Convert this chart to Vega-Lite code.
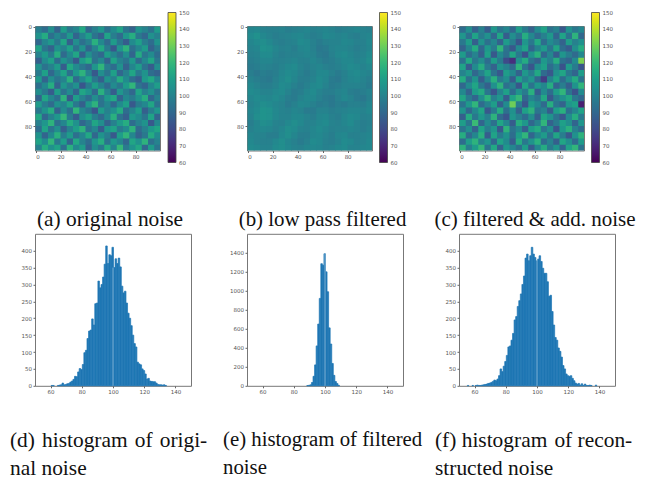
{"$schema":"https://vega.github.io/schema/vega-lite/v6.json","background":"white","padding":{"left":9,"top":12,"right":0,"bottom":0},"bounds":"flush","spacing":{"column":56,"row":55.8},"columns":3,"align":"all","resolve":{"legend":{"color":"independent"},"scale":{"color":"independent"}},
"config":{"view":{"stroke":"#777"},"axis":{"title":null,"grid":false,"domain":false,"labelFont":"DejaVu Sans","labelFontSize":5.5,"labelColor":"#555","tickColor":"#666","tickSize":2,"labelPadding":1.5,"labelOverlap":false,"format":"d"},"title":{"font":"Liberation Serif","fontSize":21.4,"fontWeight":"normal","color":"#111","frame":"group"}},
"datasets":{"grid":[
{"x":-0.5,"y":-0.5,"a":98,"b":101,"c":92},{"x":4.5,"y":-0.5,"a":92,"b":102,"c":104},{"x":9.5,"y":-0.5,"a":104,"b":100,"c":88},{"x":14.5,"y":-0.5,"a":88,"b":99,"c":99},{"x":19.5,"y":-0.5,"a":110,"b":99,"c":86},{"x":24.5,"y":-0.5,"a":96,"b":100,"c":108},{"x":29.5,"y":-0.5,"a":101,"b":98,"c":95},{"x":34.5,"y":-0.5,"a":114,"b":99,"c":101},{"x":39.5,"y":-0.5,"a":90,"b":100,"c":90},{"x":44.5,"y":-0.5,"a":99,"b":101,"c":110},{"x":49.5,"y":-0.5,"a":107,"b":99,"c":97},{"x":54.5,"y":-0.5,"a":93,"b":100,"c":88},{"x":59.5,"y":-0.5,"a":103,"b":101,"c":103},{"x":64.5,"y":-0.5,"a":112,"b":100,"c":112},{"x":69.5,"y":-0.5,"a":95,"b":98,"c":94},{"x":74.5,"y":-0.5,"a":88,"b":99,"c":99},{"x":79.5,"y":-0.5,"a":106,"b":100,"c":85},{"x":84.5,"y":-0.5,"a":100,"b":101,"c":105},{"x":89.5,"y":-0.5,"a":94,"b":100,"c":96},{"x":94.5,"y":-0.5,"a":109,"b":99,"c":101},
{"x":-0.5,"y":4.5,"a":106,"b":103,"c":107},{"x":4.5,"y":4.5,"a":115,"b":105,"c":93},{"x":9.5,"y":4.5,"a":93,"b":102,"c":112},{"x":14.5,"y":4.5,"a":101,"b":100,"c":97},{"x":19.5,"y":4.5,"a":95,"b":98,"c":105},{"x":24.5,"y":4.5,"a":108,"b":99,"c":90},{"x":29.5,"y":4.5,"a":89,"b":100,"c":113},{"x":34.5,"y":4.5,"a":100,"b":101,"c":86},{"x":39.5,"y":4.5,"a":110,"b":102,"c":104},{"x":44.5,"y":4.5,"a":94,"b":100,"c":95},{"x":49.5,"y":4.5,"a":87,"b":98,"c":116},{"x":54.5,"y":4.5,"a":112,"b":99,"c":102},{"x":59.5,"y":4.5,"a":98,"b":102,"c":91},{"x":64.5,"y":4.5,"a":91,"b":101,"c":99},{"x":69.5,"y":4.5,"a":107,"b":100,"c":108},{"x":74.5,"y":4.5,"a":116,"b":101,"c":89},{"x":79.5,"y":4.5,"a":96,"b":99,"c":112},{"x":84.5,"y":4.5,"a":90,"b":98,"c":94},{"x":89.5,"y":4.5,"a":105,"b":100,"c":118},{"x":94.5,"y":4.5,"a":99,"b":101,"c":90},
{"x":-0.5,"y":9.5,"a":90,"b":101,"c":96},{"x":4.5,"y":9.5,"a":101,"b":103,"c":110},{"x":9.5,"y":9.5,"a":108,"b":104,"c":87},{"x":14.5,"y":9.5,"a":96,"b":102,"c":106},{"x":19.5,"y":9.5,"a":113,"b":99,"c":93},{"x":24.5,"y":9.5,"a":87,"b":98,"c":101},{"x":29.5,"y":9.5,"a":104,"b":99,"c":88},{"x":34.5,"y":9.5,"a":93,"b":100,"c":109},{"x":39.5,"y":9.5,"a":99,"b":103,"c":98},{"x":44.5,"y":9.5,"a":117,"b":102,"c":84},{"x":49.5,"y":9.5,"a":102,"b":99,"c":107},{"x":54.5,"y":9.5,"a":91,"b":97,"c":96},{"x":59.5,"y":9.5,"a":109,"b":99,"c":114},{"x":64.5,"y":9.5,"a":96,"b":100,"c":92},{"x":69.5,"y":9.5,"a":86,"b":100,"c":103},{"x":74.5,"y":9.5,"a":103,"b":102,"c":97},{"x":79.5,"y":9.5,"a":111,"b":101,"c":88},{"x":84.5,"y":9.5,"a":98,"b":99,"c":110},{"x":89.5,"y":9.5,"a":92,"b":99,"c":99},{"x":94.5,"y":9.5,"a":106,"b":102,"c":105},
{"x":-0.5,"y":14.5,"a":112,"b":100,"c":88},{"x":4.5,"y":14.5,"a":95,"b":101,"c":101},{"x":9.5,"y":14.5,"a":88,"b":105,"c":115},{"x":14.5,"y":14.5,"a":105,"b":104,"c":90},{"x":19.5,"y":14.5,"a":99,"b":101,"c":108},{"x":24.5,"y":14.5,"a":111,"b":99,"c":97},{"x":29.5,"y":14.5,"a":94,"b":100,"c":119},{"x":34.5,"y":14.5,"a":106,"b":98,"c":94},{"x":39.5,"y":14.5,"a":89,"b":101,"c":85},{"x":44.5,"y":14.5,"a":100,"b":102,"c":103},{"x":49.5,"y":14.5,"a":114,"b":99,"c":112},{"x":54.5,"y":14.5,"a":97,"b":96,"c":89},{"x":59.5,"y":14.5,"a":85,"b":97,"c":100},{"x":64.5,"y":14.5,"a":107,"b":100,"c":109},{"x":69.5,"y":14.5,"a":118,"b":101,"c":95},{"x":74.5,"y":14.5,"a":93,"b":101,"c":113},{"x":79.5,"y":14.5,"a":101,"b":100,"c":92},{"x":84.5,"y":14.5,"a":109,"b":98,"c":86},{"x":89.5,"y":14.5,"a":88,"b":99,"c":104},{"x":94.5,"y":14.5,"a":97,"b":101,"c":116},
{"x":-0.5,"y":19.5,"a":100,"b":99,"c":109},{"x":4.5,"y":19.5,"a":108,"b":100,"c":92},{"x":9.5,"y":19.5,"a":97,"b":103,"c":100},{"x":14.5,"y":19.5,"a":116,"b":103,"c":87},{"x":19.5,"y":19.5,"a":91,"b":100,"c":111},{"x":24.5,"y":19.5,"a":102,"b":98,"c":85},{"x":29.5,"y":19.5,"a":113,"b":99,"c":102},{"x":34.5,"y":19.5,"a":87,"b":99,"c":93},{"x":39.5,"y":19.5,"a":104,"b":100,"c":113},{"x":44.5,"y":19.5,"a":95,"b":101,"c":96},{"x":49.5,"y":19.5,"a":90,"b":100,"c":83},{"x":54.5,"y":19.5,"a":110,"b":97,"c":106},{"x":59.5,"y":19.5,"a":101,"b":96,"c":117},{"x":64.5,"y":19.5,"a":93,"b":99,"c":90},{"x":69.5,"y":19.5,"a":104,"b":102,"c":101},{"x":74.5,"y":19.5,"a":89,"b":103,"c":86},{"x":79.5,"y":19.5,"a":115,"b":101,"c":107},{"x":84.5,"y":19.5,"a":96,"b":99,"c":98},{"x":89.5,"y":19.5,"a":103,"b":100,"c":91},{"x":94.5,"y":19.5,"a":92,"b":103,"c":102},
{"x":-0.5,"y":24.5,"a":87,"b":98,"c":94},{"x":4.5,"y":24.5,"a":103,"b":99,"c":114},{"x":9.5,"y":24.5,"a":111,"b":101,"c":96},{"x":14.5,"y":24.5,"a":92,"b":101,"c":104},{"x":19.5,"y":24.5,"a":106,"b":99,"c":92},{"x":24.5,"y":24.5,"a":98,"b":99,"c":110},{"x":29.5,"y":24.5,"a":85,"b":100,"c":97},{"x":34.5,"y":24.5,"a":109,"b":101,"c":80},{"x":39.5,"y":24.5,"a":116,"b":99,"c":72},{"x":44.5,"y":24.5,"a":94,"b":99,"c":105},{"x":49.5,"y":24.5,"a":102,"b":101,"c":115},{"x":54.5,"y":24.5,"a":88,"b":99,"c":94},{"x":59.5,"y":24.5,"a":112,"b":97,"c":88},{"x":64.5,"y":24.5,"a":100,"b":98,"c":108},{"x":69.5,"y":24.5,"a":95,"b":100,"c":99},{"x":74.5,"y":24.5,"a":108,"b":102,"c":116},{"x":79.5,"y":24.5,"a":91,"b":102,"c":93},{"x":84.5,"y":24.5,"a":102,"b":100,"c":89},{"x":89.5,"y":24.5,"a":113,"b":101,"c":103},{"x":94.5,"y":24.5,"a":96,"b":104,"c":132},
{"x":-0.5,"y":29.5,"a":105,"b":97,"c":112},{"x":4.5,"y":29.5,"a":94,"b":98,"c":86},{"x":9.5,"y":29.5,"a":99,"b":100,"c":103},{"x":14.5,"y":29.5,"a":109,"b":99,"c":116},{"x":19.5,"y":29.5,"a":86,"b":98,"c":97},{"x":24.5,"y":29.5,"a":114,"b":100,"c":88},{"x":29.5,"y":29.5,"a":103,"b":102,"c":106},{"x":34.5,"y":29.5,"a":96,"b":103,"c":100},{"x":39.5,"y":29.5,"a":90,"b":100,"c":91},{"x":44.5,"y":29.5,"a":107,"b":98,"c":118},{"x":49.5,"y":29.5,"a":119,"b":100,"c":95},{"x":54.5,"y":29.5,"a":98,"b":101,"c":84},{"x":59.5,"y":29.5,"a":92,"b":99,"c":104},{"x":64.5,"y":29.5,"a":105,"b":98,"c":111},{"x":69.5,"y":29.5,"a":88,"b":99,"c":92},{"x":74.5,"y":29.5,"a":101,"b":101,"c":100},{"x":79.5,"y":29.5,"a":110,"b":103,"c":83},{"x":84.5,"y":29.5,"a":94,"b":102,"c":109},{"x":89.5,"y":29.5,"a":86,"b":100,"c":97},{"x":94.5,"y":29.5,"a":104,"b":102,"c":84},
{"x":-0.5,"y":34.5,"a":97,"b":98,"c":100},{"x":4.5,"y":34.5,"a":111,"b":96,"c":107},{"x":9.5,"y":34.5,"a":90,"b":98,"c":90},{"x":14.5,"y":34.5,"a":101,"b":97,"c":99},{"x":19.5,"y":34.5,"a":112,"b":98,"c":112},{"x":24.5,"y":34.5,"a":93,"b":101,"c":94},{"x":29.5,"y":34.5,"a":108,"b":103,"c":85},{"x":34.5,"y":34.5,"a":118,"b":102,"c":110},{"x":39.5,"y":34.5,"a":100,"b":99,"c":102},{"x":44.5,"y":34.5,"a":85,"b":97,"c":88},{"x":49.5,"y":34.5,"a":104,"b":99,"c":108},{"x":54.5,"y":34.5,"a":95,"b":102,"c":98},{"x":59.5,"y":34.5,"a":111,"b":102,"c":114},{"x":64.5,"y":34.5,"a":90,"b":99,"c":91},{"x":69.5,"y":34.5,"a":99,"b":97,"c":85},{"x":74.5,"y":34.5,"a":113,"b":99,"c":105},{"x":79.5,"y":34.5,"a":97,"b":102,"c":113},{"x":84.5,"y":34.5,"a":106,"b":103,"c":96},{"x":89.5,"y":34.5,"a":92,"b":101,"c":89},{"x":94.5,"y":34.5,"a":88,"b":100,"c":110},
{"x":-0.5,"y":39.5,"a":108,"b":100,"c":115},{"x":4.5,"y":39.5,"a":89,"b":98,"c":93},{"x":9.5,"y":39.5,"a":104,"b":97,"c":106},{"x":14.5,"y":39.5,"a":95,"b":96,"c":86},{"x":19.5,"y":39.5,"a":100,"b":99,"c":101},{"x":24.5,"y":39.5,"a":117,"b":102,"c":117},{"x":29.5,"y":39.5,"a":91,"b":104,"c":97},{"x":34.5,"y":39.5,"a":102,"b":101,"c":104},{"x":39.5,"y":39.5,"a":112,"b":98,"c":86},{"x":44.5,"y":39.5,"a":96,"b":98,"c":111},{"x":49.5,"y":39.5,"a":87,"b":100,"c":99},{"x":54.5,"y":39.5,"a":106,"b":103,"c":107},{"x":59.5,"y":39.5,"a":99,"b":101,"c":90},{"x":64.5,"y":39.5,"a":115,"b":97,"c":76},{"x":69.5,"y":39.5,"a":103,"b":96,"c":100},{"x":74.5,"y":39.5,"a":92,"b":99,"c":112},{"x":79.5,"y":39.5,"a":86,"b":101,"c":92},{"x":84.5,"y":39.5,"a":108,"b":102,"c":104},{"x":89.5,"y":39.5,"a":114,"b":100,"c":115},{"x":94.5,"y":39.5,"a":101,"b":98,"c":95},
{"x":-0.5,"y":44.5,"a":93,"b":102,"c":90},{"x":4.5,"y":44.5,"a":102,"b":100,"c":103},{"x":9.5,"y":44.5,"a":116,"b":98,"c":113},{"x":14.5,"y":44.5,"a":88,"b":98,"c":96},{"x":19.5,"y":44.5,"a":107,"b":100,"c":87},{"x":24.5,"y":44.5,"a":98,"b":103,"c":105},{"x":29.5,"y":44.5,"a":105,"b":102,"c":118},{"x":34.5,"y":44.5,"a":84,"b":99,"c":93},{"x":39.5,"y":44.5,"a":97,"b":97,"c":99},{"x":44.5,"y":44.5,"a":110,"b":99,"c":84},{"x":49.5,"y":44.5,"a":100,"b":102,"c":113},{"x":54.5,"y":44.5,"a":91,"b":103,"c":94},{"x":59.5,"y":44.5,"a":103,"b":100,"c":108},{"x":64.5,"y":44.5,"a":96,"b":97,"c":101},{"x":69.5,"y":44.5,"a":109,"b":98,"c":116},{"x":74.5,"y":44.5,"a":119,"b":100,"c":89},{"x":79.5,"y":44.5,"a":94,"b":100,"c":98},{"x":84.5,"y":44.5,"a":89,"b":100,"c":87},{"x":89.5,"y":44.5,"a":101,"b":99,"c":106},{"x":94.5,"y":44.5,"a":110,"b":97,"c":119},
{"x":-0.5,"y":49.5,"a":104,"b":103,"c":102},{"x":4.5,"y":49.5,"a":96,"b":102,"c":88},{"x":9.5,"y":49.5,"a":86,"b":100,"c":109},{"x":14.5,"y":49.5,"a":110,"b":100,"c":115},{"x":19.5,"y":49.5,"a":94,"b":102,"c":95},{"x":24.5,"y":49.5,"a":103,"b":103,"c":84},{"x":29.5,"y":49.5,"a":89,"b":100,"c":100},{"x":34.5,"y":49.5,"a":113,"b":97,"c":111},{"x":39.5,"y":49.5,"a":106,"b":98,"c":92},{"x":44.5,"y":49.5,"a":91,"b":101,"c":106},{"x":49.5,"y":49.5,"a":117,"b":103,"c":97},{"x":54.5,"y":49.5,"a":100,"b":100,"c":117},{"x":59.5,"y":49.5,"a":86,"b":98,"c":86},{"x":64.5,"y":49.5,"a":107,"b":98,"c":103},{"x":69.5,"y":49.5,"a":98,"b":100,"c":92},{"x":74.5,"y":49.5,"a":90,"b":101,"c":110},{"x":79.5,"y":49.5,"a":112,"b":98,"c":119},{"x":84.5,"y":49.5,"a":99,"b":97,"c":94},{"x":89.5,"y":49.5,"a":105,"b":98,"c":83},{"x":94.5,"y":49.5,"a":95,"b":100,"c":103},
{"x":-0.5,"y":54.5,"a":88,"b":101,"c":113},{"x":4.5,"y":54.5,"a":113,"b":103,"c":97},{"x":9.5,"y":54.5,"a":101,"b":102,"c":89},{"x":14.5,"y":54.5,"a":93,"b":101,"c":104},{"x":19.5,"y":54.5,"a":118,"b":103,"c":118},{"x":24.5,"y":54.5,"a":85,"b":101,"c":99},{"x":29.5,"y":54.5,"a":110,"b":98,"c":107},{"x":34.5,"y":54.5,"a":99,"b":97,"c":86},{"x":39.5,"y":54.5,"a":92,"b":100,"c":112},{"x":44.5,"y":54.5,"a":104,"b":102,"c":120},{"x":49.5,"y":54.5,"a":95,"b":102,"c":90},{"x":54.5,"y":54.5,"a":108,"b":99,"c":101},{"x":59.5,"y":54.5,"a":114,"b":97,"c":95},{"x":64.5,"y":54.5,"a":89,"b":96,"c":114},{"x":69.5,"y":54.5,"a":102,"b":99,"c":85},{"x":74.5,"y":54.5,"a":97,"b":102,"c":98},{"x":79.5,"y":54.5,"a":106,"b":100,"c":105},{"x":84.5,"y":54.5,"a":116,"b":97,"c":113},{"x":89.5,"y":54.5,"a":90,"b":96,"c":96},{"x":94.5,"y":54.5,"a":100,"b":99,"c":90},
{"x":-0.5,"y":59.5,"a":109,"b":100,"c":94},{"x":4.5,"y":59.5,"a":98,"b":102,"c":108},{"x":9.5,"y":59.5,"a":91,"b":104,"c":119},{"x":14.5,"y":59.5,"a":105,"b":103,"c":91},{"x":19.5,"y":59.5,"a":100,"b":101,"c":100},{"x":24.5,"y":59.5,"a":112,"b":100,"c":110},{"x":29.5,"y":59.5,"a":96,"b":97,"c":87},{"x":34.5,"y":59.5,"a":87,"b":99,"c":103},{"x":39.5,"y":59.5,"a":107,"b":102,"c":130},{"x":44.5,"y":59.5,"a":118,"b":101,"c":98},{"x":49.5,"y":59.5,"a":94,"b":99,"c":84},{"x":54.5,"y":59.5,"a":101,"b":97,"c":109},{"x":59.5,"y":59.5,"a":90,"b":98,"c":102},{"x":64.5,"y":59.5,"a":103,"b":96,"c":91},{"x":69.5,"y":59.5,"a":111,"b":98,"c":116},{"x":74.5,"y":59.5,"a":85,"b":97,"c":95},{"x":79.5,"y":59.5,"a":97,"b":99,"c":88},{"x":84.5,"y":59.5,"a":102,"b":99,"c":107},{"x":89.5,"y":59.5,"a":113,"b":98,"c":111},{"x":94.5,"y":59.5,"a":94,"b":101,"c":68},
{"x":-0.5,"y":64.5,"a":96,"b":101,"c":106},{"x":4.5,"y":64.5,"a":106,"b":103,"c":90},{"x":9.5,"y":64.5,"a":116,"b":106,"c":102},{"x":14.5,"y":64.5,"a":88,"b":105,"c":113},{"x":19.5,"y":64.5,"a":103,"b":102,"c":85},{"x":24.5,"y":64.5,"a":93,"b":100,"c":97},{"x":29.5,"y":64.5,"a":119,"b":99,"c":115},{"x":34.5,"y":64.5,"a":101,"b":101,"c":93},{"x":39.5,"y":64.5,"a":95,"b":100,"c":105},{"x":44.5,"y":64.5,"a":84,"b":97,"c":88},{"x":49.5,"y":64.5,"a":109,"b":97,"c":111},{"x":54.5,"y":64.5,"a":99,"b":100,"c":118},{"x":59.5,"y":64.5,"a":105,"b":100,"c":95},{"x":64.5,"y":64.5,"a":115,"b":98,"c":100},{"x":69.5,"y":64.5,"a":92,"b":99,"c":86},{"x":74.5,"y":64.5,"a":100,"b":100,"c":110},{"x":79.5,"y":64.5,"a":110,"b":101,"c":117},{"x":84.5,"y":64.5,"a":87,"b":101,"c":93},{"x":89.5,"y":64.5,"a":98,"b":100,"c":101},{"x":94.5,"y":64.5,"a":107,"b":102,"c":112},
{"x":-0.5,"y":69.5,"a":114,"b":100,"c":87},{"x":4.5,"y":69.5,"a":90,"b":104,"c":115},{"x":9.5,"y":69.5,"a":100,"b":106,"c":96},{"x":14.5,"y":69.5,"a":108,"b":105,"c":108},{"x":19.5,"y":69.5,"a":120,"b":102,"c":99},{"x":24.5,"y":69.5,"a":97,"b":100,"c":118},{"x":29.5,"y":69.5,"a":86,"b":100,"c":91},{"x":34.5,"y":69.5,"a":104,"b":102,"c":84},{"x":39.5,"y":69.5,"a":111,"b":102,"c":107},{"x":44.5,"y":69.5,"a":98,"b":100,"c":99},{"x":49.5,"y":69.5,"a":91,"b":98,"c":92},{"x":54.5,"y":69.5,"a":102,"b":101,"c":104},{"x":59.5,"y":69.5,"a":117,"b":102,"c":87},{"x":64.5,"y":69.5,"a":94,"b":99,"c":113},{"x":69.5,"y":69.5,"a":87,"b":98,"c":106},{"x":74.5,"y":69.5,"a":108,"b":101,"c":94},{"x":79.5,"y":69.5,"a":103,"b":103,"c":85},{"x":84.5,"y":69.5,"a":95,"b":102,"c":103},{"x":89.5,"y":69.5,"a":112,"b":99,"c":116},{"x":94.5,"y":69.5,"a":89,"b":100,"c":97},
{"x":-0.5,"y":74.5,"a":99,"b":98,"c":110},{"x":4.5,"y":74.5,"a":107,"b":101,"c":95},{"x":9.5,"y":74.5,"a":118,"b":104,"c":121},{"x":14.5,"y":74.5,"a":93,"b":103,"c":89},{"x":19.5,"y":74.5,"a":101,"b":100,"c":103},{"x":24.5,"y":74.5,"a":115,"b":99,"c":93},{"x":29.5,"y":74.5,"a":105,"b":102,"c":113},{"x":34.5,"y":74.5,"a":90,"b":104,"c":101},{"x":39.5,"y":74.5,"a":97,"b":102,"c":86},{"x":44.5,"y":74.5,"a":113,"b":99,"c":116},{"x":49.5,"y":74.5,"a":104,"b":100,"c":108},{"x":54.5,"y":74.5,"a":88,"b":102,"c":90},{"x":59.5,"y":74.5,"a":99,"b":103,"c":100},{"x":64.5,"y":74.5,"a":109,"b":100,"c":119},{"x":69.5,"y":74.5,"a":116,"b":99,"c":88},{"x":74.5,"y":74.5,"a":92,"b":101,"c":97},{"x":79.5,"y":74.5,"a":100,"b":103,"c":111},{"x":84.5,"y":74.5,"a":106,"b":100,"c":104},{"x":89.5,"y":74.5,"a":85,"b":98,"c":89},{"x":94.5,"y":74.5,"a":102,"b":99,"c":107},
{"x":-0.5,"y":79.5,"a":92,"b":99,"c":95},{"x":4.5,"y":79.5,"a":112,"b":101,"c":104},{"x":9.5,"y":79.5,"a":95,"b":102,"c":88},{"x":14.5,"y":79.5,"a":104,"b":101,"c":112},{"x":19.5,"y":79.5,"a":87,"b":99,"c":98},{"x":24.5,"y":79.5,"a":100,"b":101,"c":107},{"x":29.5,"y":79.5,"a":110,"b":104,"c":85},{"x":34.5,"y":79.5,"a":118,"b":103,"c":118},{"x":39.5,"y":79.5,"a":94,"b":100,"c":94},{"x":44.5,"y":79.5,"a":101,"b":99,"c":102},{"x":49.5,"y":79.5,"a":86,"b":101,"c":87},{"x":54.5,"y":79.5,"a":107,"b":103,"c":110},{"x":59.5,"y":79.5,"a":112,"b":101,"c":115},{"x":64.5,"y":79.5,"a":97,"b":99,"c":96},{"x":69.5,"y":79.5,"a":103,"b":100,"c":104},{"x":74.5,"y":79.5,"a":118,"b":100,"c":84},{"x":79.5,"y":79.5,"a":91,"b":101,"c":108},{"x":84.5,"y":79.5,"a":99,"b":100,"c":117},{"x":89.5,"y":79.5,"a":108,"b":98,"c":99},{"x":94.5,"y":79.5,"a":113,"b":100,"c":92},
{"x":-0.5,"y":84.5,"a":106,"b":101,"c":116},{"x":4.5,"y":84.5,"a":89,"b":100,"c":91},{"x":9.5,"y":84.5,"a":102,"b":100,"c":101},{"x":14.5,"y":84.5,"a":117,"b":98,"c":117},{"x":19.5,"y":84.5,"a":98,"b":98,"c":86},{"x":24.5,"y":84.5,"a":109,"b":102,"c":112},{"x":29.5,"y":84.5,"a":93,"b":104,"c":97},{"x":34.5,"y":84.5,"a":101,"b":101,"c":106},{"x":39.5,"y":84.5,"a":114,"b":98,"c":92},{"x":44.5,"y":84.5,"a":90,"b":98,"c":110},{"x":49.5,"y":84.5,"a":106,"b":101,"c":119},{"x":54.5,"y":84.5,"a":98,"b":102,"c":89},{"x":59.5,"y":84.5,"a":85,"b":100,"c":101},{"x":64.5,"y":84.5,"a":110,"b":98,"c":109},{"x":69.5,"y":84.5,"a":119,"b":101,"c":94},{"x":74.5,"y":84.5,"a":101,"b":102,"c":113},{"x":79.5,"y":84.5,"a":88,"b":99,"c":98},{"x":84.5,"y":84.5,"a":96,"b":99,"c":85},{"x":89.5,"y":84.5,"a":115,"b":100,"c":105},{"x":94.5,"y":84.5,"a":103,"b":101,"c":118},
{"x":-0.5,"y":89.5,"a":112,"b":102,"c":92},{"x":4.5,"y":89.5,"a":103,"b":100,"c":110},{"x":9.5,"y":89.5,"a":119,"b":99,"c":118},{"x":14.5,"y":89.5,"a":96,"b":99,"c":99},{"x":19.5,"y":89.5,"a":110,"b":102,"c":107},{"x":24.5,"y":89.5,"a":89,"b":104,"c":90},{"x":29.5,"y":89.5,"a":114,"b":101,"c":112},{"x":34.5,"y":89.5,"a":100,"b":99,"c":103},{"x":39.5,"y":89.5,"a":92,"b":97,"c":86},{"x":44.5,"y":89.5,"a":107,"b":99,"c":115},{"x":49.5,"y":89.5,"a":116,"b":103,"c":96},{"x":54.5,"y":89.5,"a":94,"b":102,"c":106},{"x":59.5,"y":89.5,"a":108,"b":99,"c":117},{"x":64.5,"y":89.5,"a":101,"b":98,"c":92},{"x":69.5,"y":89.5,"a":90,"b":100,"c":100},{"x":74.5,"y":89.5,"a":113,"b":103,"c":87},{"x":79.5,"y":89.5,"a":105,"b":102,"c":113},{"x":84.5,"y":89.5,"a":118,"b":99,"c":104},{"x":89.5,"y":89.5,"a":93,"b":100,"c":91},{"x":94.5,"y":89.5,"a":100,"b":102,"c":109},
{"x":-0.5,"y":94.5,"a":99,"b":103,"c":118},{"x":4.5,"y":94.5,"a":116,"b":102,"c":98},{"x":9.5,"y":94.5,"a":105,"b":100,"c":109},{"x":14.5,"y":94.5,"a":112,"b":100,"c":120},{"x":19.5,"y":94.5,"a":93,"b":103,"c":95},{"x":24.5,"y":94.5,"a":117,"b":104,"c":114},{"x":29.5,"y":94.5,"a":102,"b":102,"c":88},{"x":34.5,"y":94.5,"a":110,"b":100,"c":108},{"x":39.5,"y":94.5,"a":88,"b":99,"c":101},{"x":44.5,"y":94.5,"a":104,"b":101,"c":93},{"x":49.5,"y":94.5,"a":96,"b":102,"c":110},{"x":54.5,"y":94.5,"a":115,"b":101,"c":86},{"x":59.5,"y":94.5,"a":100,"b":99,"c":102},{"x":64.5,"y":94.5,"a":120,"b":100,"c":115},{"x":69.5,"y":94.5,"a":97,"b":102,"c":97},{"x":74.5,"y":94.5,"a":106,"b":103,"c":107},{"x":79.5,"y":94.5,"a":114,"b":100,"c":89},{"x":84.5,"y":94.5,"a":90,"b":100,"c":112},{"x":89.5,"y":94.5,"a":109,"b":101,"c":119},{"x":94.5,"y":94.5,"a":95,"b":102,"c":94}],
"ha":[{"x":60,"n":1},{"x":61,"n":1},{"x":64,"n":1},{"x":65,"n":2},{"x":66,"n":3},{"x":67,"n":8},{"x":68,"n":3},{"x":69,"n":4},{"x":70,"n":6},{"x":71,"n":7},{"x":72,"n":11},{"x":73,"n":14},{"x":74,"n":19},{"x":75,"n":28},{"x":76,"n":27},{"x":77,"n":41},{"x":78,"n":51},{"x":79,"n":48},{"x":80,"n":63},{"x":81,"n":98},{"x":82,"n":105},{"x":83,"n":140},{"x":84,"n":162},{"x":85,"n":165},{"x":86,"n":198},{"x":87,"n":180},{"x":88,"n":243},{"x":89,"n":245},{"x":90,"n":310},{"x":91,"n":290},{"x":92,"n":300},{"x":93,"n":322},{"x":94,"n":360},{"x":95,"n":414},{"x":96,"n":362},{"x":97,"n":388},{"x":98,"n":385},{"x":99,"n":410},{"x":100,"n":350},{"x":101,"n":376},{"x":102,"n":362},{"x":103,"n":378},{"x":104,"n":352},{"x":105,"n":295},{"x":106,"n":275},{"x":107,"n":280},{"x":108,"n":245},{"x":109,"n":215},{"x":110,"n":200},{"x":111,"n":178},{"x":112,"n":150},{"x":113,"n":125},{"x":114,"n":115},{"x":115,"n":70},{"x":116,"n":65},{"x":117,"n":62},{"x":118,"n":50},{"x":119,"n":45},{"x":120,"n":35},{"x":121,"n":20},{"x":122,"n":22},{"x":123,"n":14},{"x":124,"n":13},{"x":125,"n":12},{"x":126,"n":12},{"x":127,"n":8},{"x":128,"n":4},{"x":129,"n":3},{"x":130,"n":3},{"x":131,"n":2},{"x":132,"n":3},{"x":133,"n":1}],
"hb":[{"x":88,"n":3},{"x":89,"n":5},{"x":90,"n":10},{"x":91,"n":35},{"x":92,"n":100},{"x":93,"n":220},{"x":94,"n":420},{"x":95,"n":650},{"x":96,"n":920},{"x":97,"n":1285},{"x":98,"n":1270},{"x":99,"n":1390},{"x":100,"n":1200},{"x":101,"n":990},{"x":102,"n":610},{"x":103,"n":440},{"x":104,"n":235},{"x":105,"n":110},{"x":106,"n":45},{"x":107,"n":25},{"x":108,"n":5}],
"hc":[{"x":55,"n":1},{"x":58,"n":1},{"x":60,"n":1},{"x":61,"n":2},{"x":62,"n":1},{"x":63,"n":1},{"x":64,"n":2},{"x":65,"n":3},{"x":66,"n":4},{"x":67,"n":5},{"x":68,"n":7},{"x":69,"n":8},{"x":70,"n":10},{"x":71,"n":13},{"x":72,"n":17},{"x":73,"n":15},{"x":74,"n":20},{"x":75,"n":30},{"x":76,"n":50},{"x":77,"n":42},{"x":78,"n":58},{"x":79,"n":72},{"x":80,"n":90},{"x":81,"n":115},{"x":82,"n":118},{"x":83,"n":135},{"x":84,"n":155},{"x":85,"n":195},{"x":86,"n":205},{"x":87,"n":235},{"x":88,"n":252},{"x":89,"n":272},{"x":90,"n":300},{"x":91,"n":325},{"x":92,"n":378},{"x":93,"n":390},{"x":94,"n":370},{"x":95,"n":385},{"x":96,"n":410},{"x":97,"n":390},{"x":98,"n":380},{"x":99,"n":370},{"x":100,"n":375},{"x":101,"n":385},{"x":102,"n":368},{"x":103,"n":348},{"x":104,"n":333},{"x":105,"n":333},{"x":106,"n":308},{"x":107,"n":265},{"x":108,"n":268},{"x":109,"n":220},{"x":110,"n":180},{"x":111,"n":143},{"x":112,"n":135},{"x":113,"n":112},{"x":114,"n":102},{"x":115,"n":85},{"x":116,"n":60},{"x":117,"n":50},{"x":118,"n":35},{"x":119,"n":30},{"x":120,"n":28},{"x":121,"n":30},{"x":122,"n":22},{"x":123,"n":15},{"x":124,"n":8},{"x":125,"n":5},{"x":126,"n":7},{"x":127,"n":2},{"x":128,"n":6},{"x":129,"n":1},{"x":130,"n":5},{"x":131,"n":1},{"x":132,"n":1},{"x":133,"n":2},{"x":134,"n":1},{"x":137,"n":2}]},
"concat":[
{"width":125,"height":124.5,"data":{"name":"grid"},"title":{"text":"(a) original noise","orient":"bottom","anchor":"middle","dx":12.5,"offset":42},"mark":{"type":"rect","clip":true},"encoding":{"x":{"field":"x","type":"quantitative","bin":{"binned":true,"step":5.6},"scale":{"domain":[-0.5,99.5]},"axis":{"values":[0,20,40,60,80]}},"y":{"field":"y","type":"quantitative","bin":{"binned":true,"step":5.6},"scale":{"domain":[99.5,-0.5]},"axis":{"values":[0,20,40,60,80]}},"color":{"field":"a","type":"quantitative","scale":{"scheme":"viridis","domain":[60,150]},"legend":{"type":"gradient","orient":"none","legendX":133,"legendY":-13.5,"direction":"vertical","gradientThickness":8,"gradientLength":150,"gradientStrokeColor":"#444","gradientStrokeWidth":0.8,"labelFont":"DejaVu Sans","labelFontSize":5.5,"labelColor":"#555","labelOffset":3,"title":null,"labelOverlap":false,"values":[60,70,80,90,100,110,120,130,140,150],"encode":{"labels":{"update":{"baseline":{"value":"middle"}}}}}}}},
{"width":125,"height":124.5,"data":{"name":"grid"},"title":{"text":"(b) low pass filtered","orient":"bottom","anchor":"middle","dx":13,"offset":42,"fontSize":20.9},"mark":{"type":"rect","clip":true},"encoding":{"x":{"field":"x","type":"quantitative","bin":{"binned":true,"step":5.6},"scale":{"domain":[-0.5,99.5]},"axis":{"values":[0,20,40,60,80]}},"y":{"field":"y","type":"quantitative","bin":{"binned":true,"step":5.6},"scale":{"domain":[99.5,-0.5]},"axis":{"values":[0,20,40,60,80]}},"color":{"field":"b","type":"quantitative","scale":{"scheme":"viridis","domain":[60,150]},"legend":{"type":"gradient","orient":"none","legendX":132.5,"legendY":-13.5,"direction":"vertical","gradientThickness":8,"gradientLength":150,"gradientStrokeColor":"#444","gradientStrokeWidth":0.8,"labelFont":"DejaVu Sans","labelFontSize":5.5,"labelColor":"#555","labelOffset":3,"title":null,"labelOverlap":false,"values":[60,70,80,90,100,110,120,130,140,150],"encode":{"labels":{"update":{"baseline":{"value":"middle"}}}}}}}},
{"width":125,"height":124.5,"data":{"name":"grid"},"title":{"text":"(c) filtered & add. noise","orient":"bottom","anchor":"middle","dx":13.5,"offset":42,"fontSize":21},"mark":{"type":"rect","clip":true},"encoding":{"x":{"field":"x","type":"quantitative","bin":{"binned":true,"step":5.6},"scale":{"domain":[-0.5,99.5]},"axis":{"values":[0,20,40,60,80]}},"y":{"field":"y","type":"quantitative","bin":{"binned":true,"step":5.6},"scale":{"domain":[99.5,-0.5]},"axis":{"values":[0,20,40,60,80]}},"color":{"field":"c","type":"quantitative","scale":{"scheme":"viridis","domain":[60,150]},"legend":{"type":"gradient","orient":"none","legendX":132.5,"legendY":-13.5,"direction":"vertical","gradientThickness":8,"gradientLength":150,"gradientStrokeColor":"#444","gradientStrokeWidth":0.8,"labelFont":"DejaVu Sans","labelFontSize":5.5,"labelColor":"#555","labelOffset":3,"title":null,"labelOverlap":false,"values":[60,70,80,90,100,110,120,130,140,150],"encode":{"labels":{"update":{"baseline":{"value":"middle"}}}}}}}},
{"width":156,"height":152,"title":{"text":["(d)\u200a histogram\u200a of\u200a origi-","nal noise"],"orient":"bottom","anchor":"start","dx":-25,"offset":35,"lineHeight":28},"layer":[{"data":{"name":"ha"},"mark":{"type":"rect","fill":"#1f77b4","stroke":"#1f77b4","strokeWidth":0.7},"encoding":{"x":{"field":"x","type":"quantitative","bin":{"binned":true,"step":1},"scale":{"domain":[50,150]},"axis":{"values":[60,80,100,120,140]}},"y":{"field":"n","type":"quantitative","scale":{"domain":[0,433]},"axis":{"values":[0,50,100,150,200,250,300,350,400]}},"y2":{"datum":0}}},{"data":{"values":[{"x":100,"n":350}]},"mark":{"type":"rule","color":"white","opacity":0.4,"strokeWidth":1},"encoding":{"x":{"field":"x","type":"quantitative","axis":{"values":[60,80,100,120,140]}},"y":{"field":"n","type":"quantitative","axis":{"values":[0,50,100,150,200,250,300,350,400]}},"y2":{"datum":0}}}]},
{"width":156,"height":152,"title":{"text":["(e) histogram of filtered","noise"],"orient":"bottom","anchor":"start","dx":-24,"offset":35,"lineHeight":28,"fontSize":20.8},"layer":[{"data":{"name":"hb"},"mark":{"type":"rect","fill":"#1f77b4","stroke":"#1f77b4","strokeWidth":0.7},"encoding":{"x":{"field":"x","type":"quantitative","bin":{"binned":true,"step":1},"scale":{"domain":[50,150]},"axis":{"values":[60,80,100,120,140]}},"y":{"field":"n","type":"quantitative","scale":{"domain":[0,1460]},"axis":{"values":[0,200,400,600,800,1000,1200,1400]}},"y2":{"datum":0}}},{"data":{"values":[{"x":100,"n":1390}]},"mark":{"type":"rule","color":"white","opacity":0.4,"strokeWidth":1},"encoding":{"x":{"field":"x","type":"quantitative","axis":{"values":[60,80,100,120,140]}},"y":{"field":"n","type":"quantitative","axis":{"values":[0,200,400,600,800,1000,1200,1400]}},"y2":{"datum":0}}}]},
{"width":156,"height":152,"title":{"text":["(f) histogram\u200a of recon-","structed noise"],"orient":"bottom","anchor":"start","dx":-24,"offset":35,"lineHeight":28},"layer":[{"data":{"name":"hc"},"mark":{"type":"rect","fill":"#1f77b4","stroke":"#1f77b4","strokeWidth":0.7},"encoding":{"x":{"field":"x","type":"quantitative","bin":{"binned":true,"step":1},"scale":{"domain":[50,150]},"axis":{"values":[60,80,100,120,140]}},"y":{"field":"n","type":"quantitative","scale":{"domain":[0,428]},"axis":{"values":[0,50,100,150,200,250,300,350,400]}},"y2":{"datum":0}}},{"data":{"values":[{"x":100,"n":375}]},"mark":{"type":"rule","color":"white","opacity":0.4,"strokeWidth":1},"encoding":{"x":{"field":"x","type":"quantitative","axis":{"values":[60,80,100,120,140]}},"y":{"field":"n","type":"quantitative","axis":{"values":[0,50,100,150,200,250,300,350,400]}},"y2":{"datum":0}}}]}
]}
